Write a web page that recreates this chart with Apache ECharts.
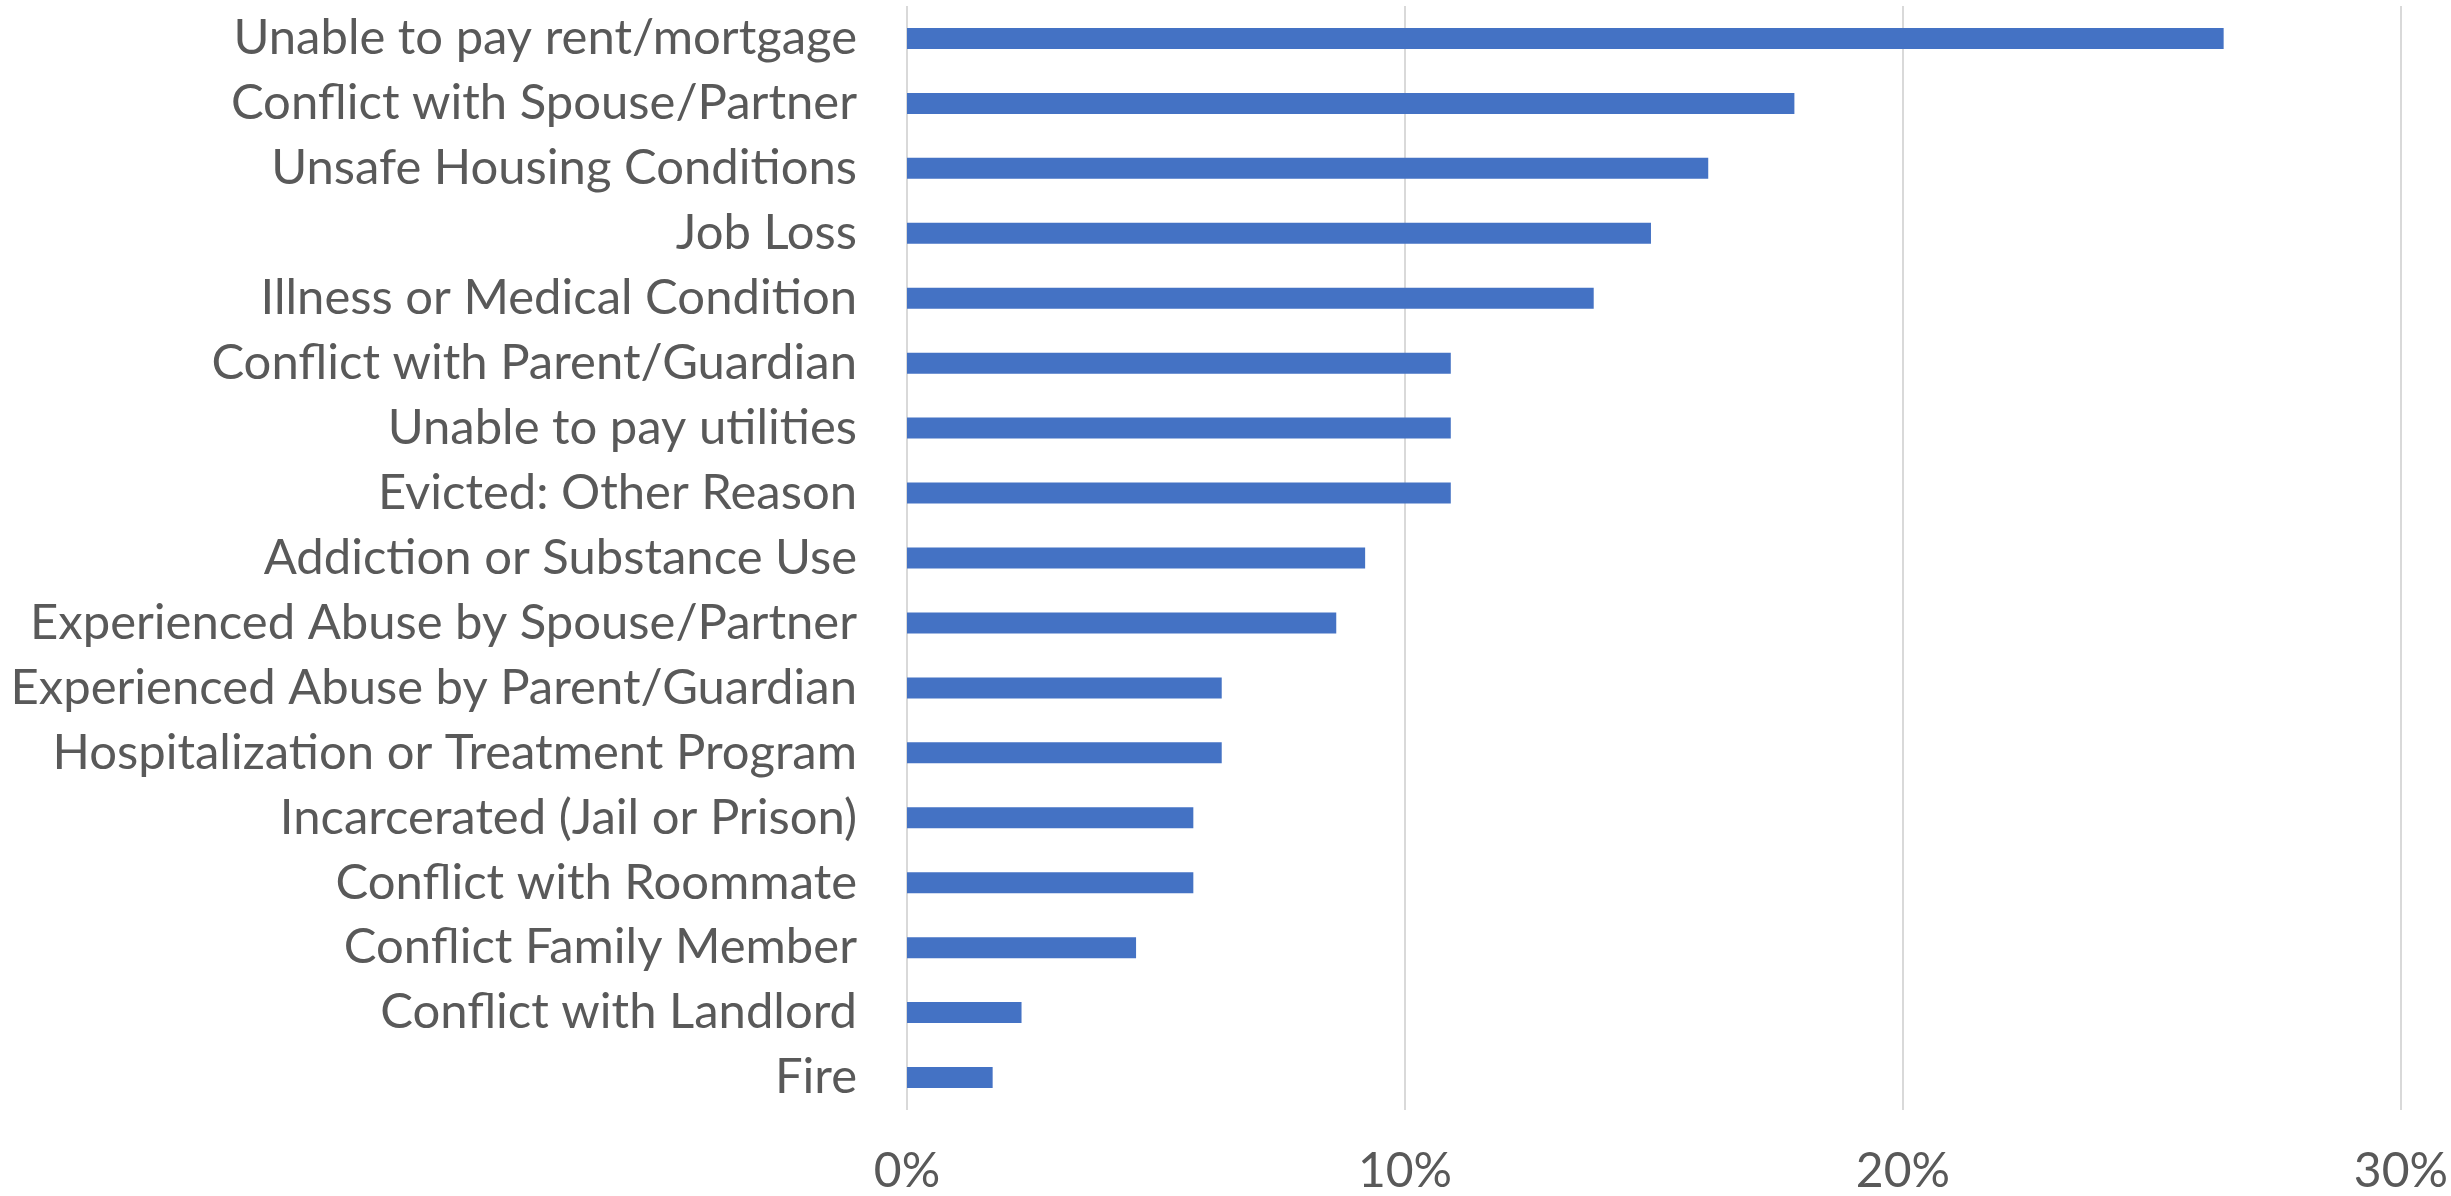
<!DOCTYPE html>
<html>
<head>
<meta charset="utf-8">
<script src="https://cdn.jsdelivr.net/npm/echarts@6/dist/echarts.min.js"></script>
<style>
html,body{margin:0;padding:0;background:#fff;}
#chart{width:2451px;height:1196px;}
</style>
</head>
<body>
<div id="chart"></div>
<script>
const categories = [
  "Unable to pay rent/mortgage",
  "Conflict with Spouse/Partner",
  "Unsafe Housing Conditions",
  "Job Loss",
  "Illness or Medical Condition",
  "Conflict with Parent/Guardian",
  "Unable to pay utilities",
  "Evicted: Other Reason",
  "Addiction or Substance Use",
  "Experienced Abuse by Spouse/Partner",
  "Experienced Abuse by Parent/Guardian",
  "Hospitalization or Treatment Program",
  "Incarcerated (Jail or Prison)",
  "Conflict with Roommate",
  "Conflict Family Member",
  "Conflict with Landlord",
  "Fire"
];
const values = [26.44, 17.82, 16.09, 14.94, 13.79, 10.92, 10.92, 10.92, 9.20, 8.62, 6.32, 6.32, 5.75, 5.75, 4.60, 2.30, 1.72];
const xTicks = [0, 10, 20, 30];

const chart = echarts.init(document.getElementById('chart'));
chart.setOption({
  animation: false,
  backgroundColor: '#ffffff',
  grid: { left: 907, right: 49, top: 6, bottom: 83, containLabel: false },
  xAxis: {
    type: 'value',
    min: xTicks[0],
    max: xTicks[xTicks.length - 1],
    interval: 10,
    axisLine: { show: false },
    axisTick: { show: false },
    splitLine: { show: true, lineStyle: { color: '#d9d9d9', width: 2 } },
    axisLabel: {
      formatter: v => v + '%',
      color: '#595959',
      fontFamily: 'Lato',
      fontSize: 48,
      margin: 38
    }
  },
  yAxis: {
    type: 'category',
    inverse: true,
    data: categories,
    axisLine: { show: false },
    axisTick: { show: false },
    axisLabel: {
      color: '#595959',
      fontFamily: 'Lato',
      fontSize: 49,
      margin: 50
    }
  },
  series: [{
    type: 'bar',
    data: values,
    barWidth: 21,
    itemStyle: { color: '#4472C4' }
  }]
});
</script>
</body>
</html>
